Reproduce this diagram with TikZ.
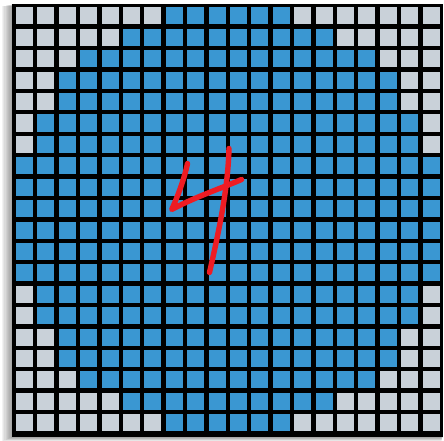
\documentclass[tikz,border=0pt]{standalone}
\usepackage{xcolor}
\usepackage{tikz}

\definecolor{pixblue}{HTML}{3A97D2}
\definecolor{pixgrey}{HTML}{C9D1D9}
\definecolor{inkred}{HTML}{EE1C24}

\begin{document}
\begin{tikzpicture}[x=1pt,y=-1pt,
  bluecell/.style={fill=pixblue},
  greycell/.style={fill=pixgrey},
  inkstroke/.style={draw=inkred,line width=5.4pt,line cap=round,line join=round}]
  \useasboundingbox (0,0) rectangle (444,441);
  % soft shadow at left and bottom
  \foreach \k in {1,...,8}
    \fill[black,opacity=0.05] ({12-1.3*\k},{4+0.3*\k}) rectangle ({443-0.2*\k},{437+0.5*\k});
  \fill[black] (12,4) rectangle (443,437);
  % 20x20 pixel cells
  \foreach \r in {0,...,19}
    \foreach \c in {0,...,19}
      \fill[bluecell] ({16+21.4*\c},{7.5+21.4*\r}) rectangle +(17,17);
  % grey corner cells (row/count per side)
  \foreach \r/\g in {0/7,1/5,2/3,3/2,4/2,5/1,6/1,13/1,14/1,15/2,16/2,17/3,18/5,19/7}
    \foreach \c in {1,...,\g}{
      \fill[greycell] ({16+21.4*(\c-1)},{7.5+21.4*\r}) rectangle +(17,17);
      \fill[greycell] ({16+21.4*(20-\c)},{7.5+21.4*\r}) rectangle +(17,17);
    }
  % handwritten digit
  \draw[inkstroke] (187.5,163.5) .. controls (184,180) and (177,198) .. (171.7,209.5)
    .. controls (195,197) and (222,188) .. (241.5,179.5);
  \draw[inkstroke] (229,148.5) .. controls (228,190) and (218,235) .. (209.5,272.5);
\end{tikzpicture}
\end{document}
